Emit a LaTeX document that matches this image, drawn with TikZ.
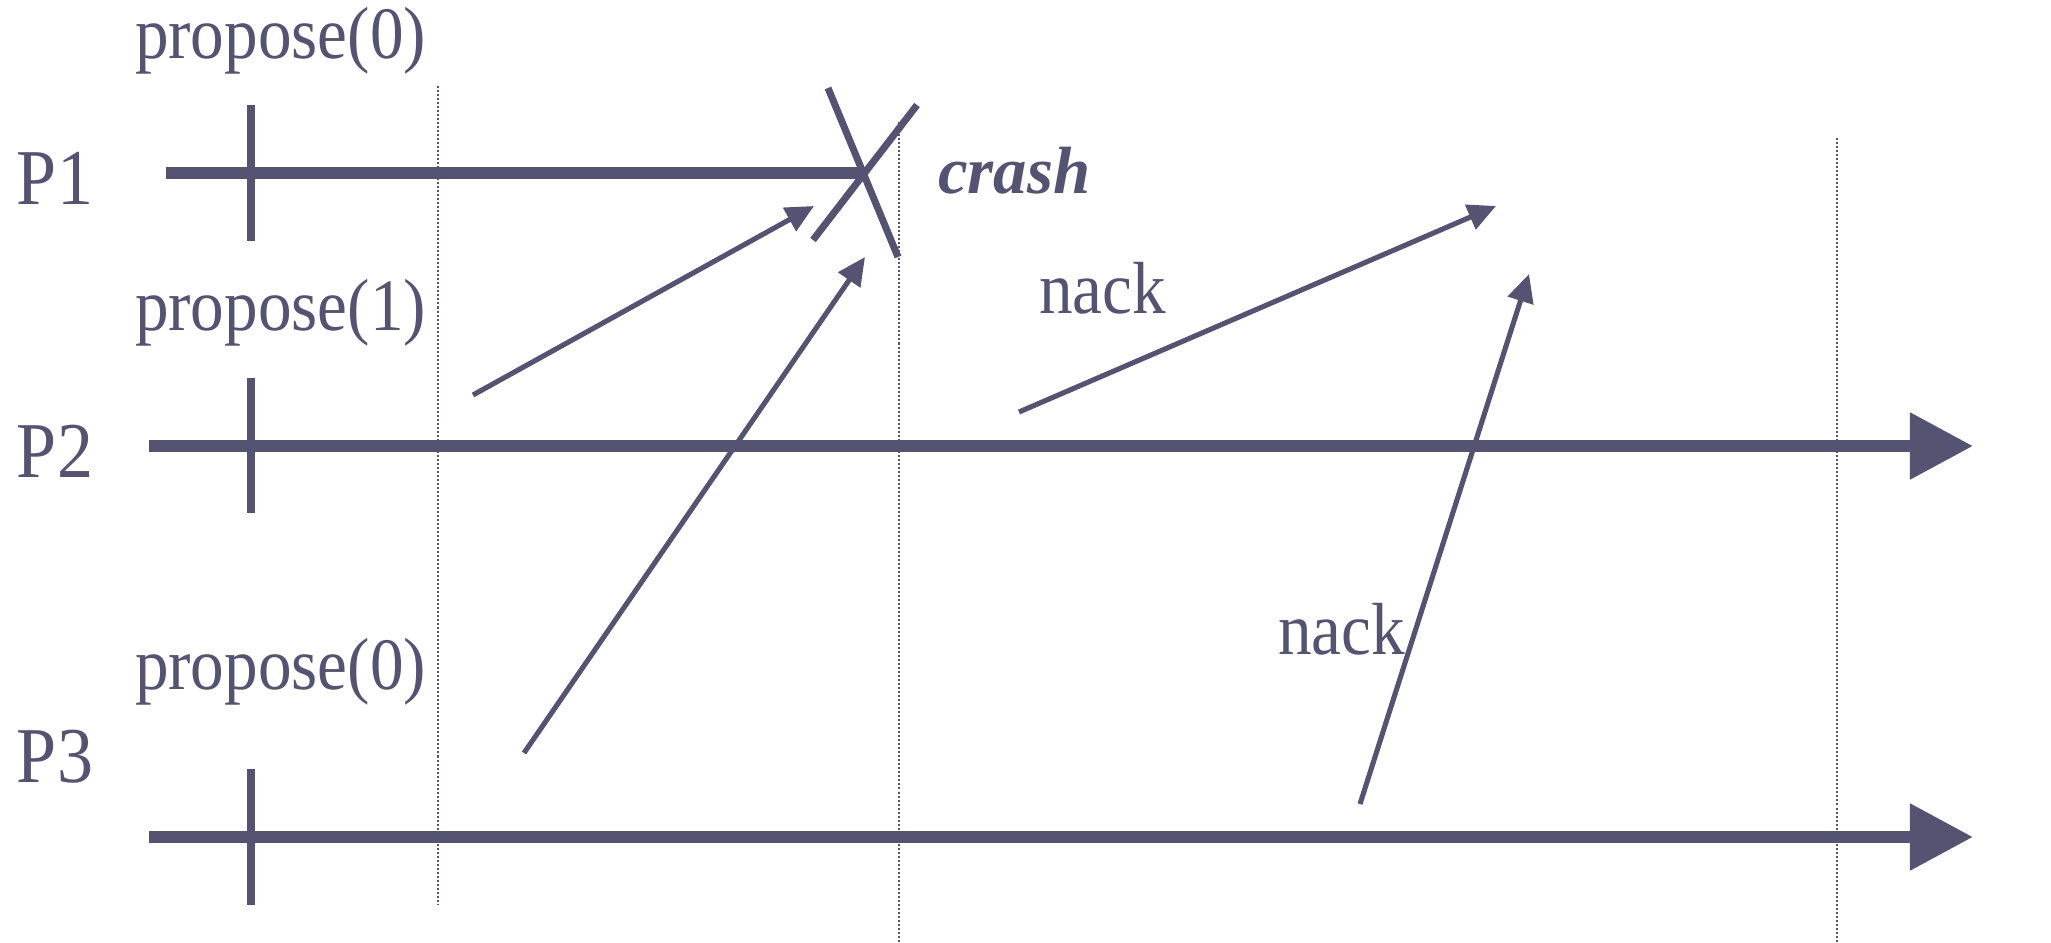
\documentclass[tikz,border=0pt]{standalone}
\usepackage{fontspec}
\setmainfont{Liberation Serif}[FakeStretch=0.91]
\newfontfamily\crashfont{Liberation Serif}
\usetikzlibrary{arrows.meta}
\definecolor{ink}{RGB}{84,84,114}
\begin{document}
\begin{tikzpicture}[x=0.01cm,y=-0.01cm,
  every node/.style={inner sep=0pt, outer sep=0pt, text=ink},
  lbl/.style={font=\fontsize{21}{24}\selectfont, anchor=base west},
  plbl/.style={font=\fontsize{22.5}{26}\selectfont, anchor=base west},
  crashlbl/.style={font=\crashfont\fontsize{19}{22}\selectfont\bfseries\itshape, anchor=base west},
  timeline/.style={draw=ink, line width=3.4pt},
  tickmark/.style={draw=ink, line width=2.5pt},
  gridline/.style={draw=ink, line width=0.6pt, dash pattern=on 0.57pt off 0.57pt},
  msg/.style={draw=ink, line width=1.45pt, -{Triangle[length=0.28cm,width=0.26cm]}},
  crossline/.style={draw=ink, line width=2pt},
  bigtip/.style={-{Triangle[length=0.63cm,width=0.64cm]}}
]
\useasboundingbox (0,0) rectangle (2051,942);

% process labels
\node[plbl] (p1) at (17,204) {P1};
\node[plbl] (p2) at (17,477) {P2};
\node[plbl] (p3) at (17,782) {P3};

% propose labels
\node[lbl] (pr1) at (135,58) {propose(0)};
\node[lbl] (pr2) at (135,330) {propose(1)};
\node[lbl] (pr3) at (135,689) {propose(0)};

% dotted round separators
\coordinate (g1a) at (438,86);  \coordinate (g1b) at (438,905);
\coordinate (g2a) at (899,122); \coordinate (g2b) at (899,942);
\coordinate (g3a) at (1837,138);\coordinate (g3b) at (1837,942);
\draw[gridline] (g1a) -- (g1b);
\draw[gridline] (g2a) -- (g2b);
\draw[gridline] (g3a) -- (g3b);

% time lines
\coordinate (l1a) at (166,173); \coordinate (l1b) at (864,173);
\coordinate (l2a) at (149,446); \coordinate (l2b) at (1973,446);
\coordinate (l3a) at (149,837); \coordinate (l3b) at (1973,837);
\draw[timeline] (l1a) -- (l1b);
\draw[timeline,bigtip] (l2a) -- (l2b);
\draw[timeline,bigtip] (l3a) -- (l3b);

% start ticks
\coordinate (t1a) at (251,105); \coordinate (t1b) at (251,241);
\coordinate (t2a) at (251,378); \coordinate (t2b) at (251,513);
\coordinate (t3a) at (251,769); \coordinate (t3b) at (251,905);
\draw[tickmark] (t1a) -- (t1b);
\draw[tickmark] (t2a) -- (t2b);
\draw[tickmark] (t3a) -- (t3b);

% crash cross
\coordinate (xa1) at (828,88);  \coordinate (xa2) at (898,257);
\coordinate (xb1) at (917,105); \coordinate (xb2) at (813,240);
\draw[crossline] (xa1) -- (xa2);
\draw[crossline] (xb1) -- (xb2);
\node[crashlbl] (crash) at (938,193) {crash};

% messages
\coordinate (m1a) at (473,395);  \coordinate (m1b) at (814,206);
\coordinate (m2a) at (524,753);  \coordinate (m2b) at (865,257);
\coordinate (m3a) at (1019,412); \coordinate (m3b) at (1496,206);
\coordinate (m4a) at (1360,804); \coordinate (m4b) at (1529,274);
\draw[msg] (m1a) -- (m1b);
\draw[msg] (m2a) -- (m2b);
\draw[msg] (m3a) -- (m3b);
\draw[msg] (m4a) -- (m4b);

\node[lbl] (nack1) at (1039,313) {nack};
\node[lbl] (nack2) at (1278,654) {nack};
\end{tikzpicture}
\end{document}
